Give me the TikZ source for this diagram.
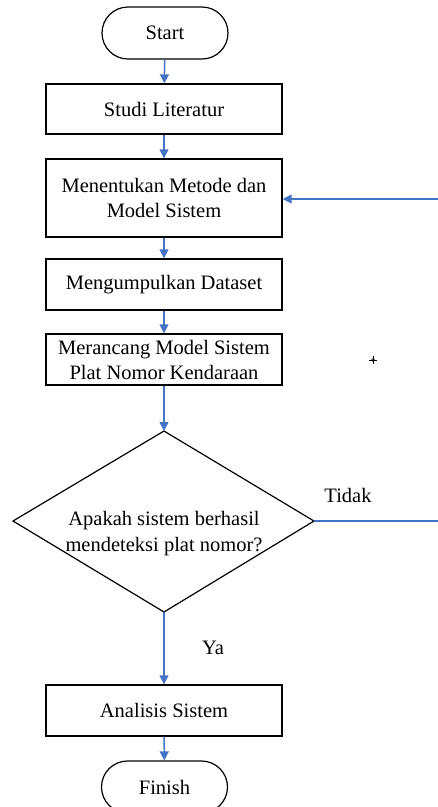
\documentclass[tikz,border=0pt]{standalone}
\usepackage{fontspec}
\setmainfont{Liberation Serif}
\usetikzlibrary{arrows.meta}
\definecolor{flowblue}{HTML}{4472C4}
\tikzset{
  procbox/.style={draw=black, line width=1.4pt, fill=white, minimum width=236pt, inner sep=0pt, align=center, font=\fontsize{20.5}{25}\selectfont},
  termbox/.style={draw=black, line width=1.2pt, fill=white, minimum width=126pt, minimum height=52pt, rounded corners=26pt, inner sep=0pt, align=center, font=\fontsize{20.5}{25}\selectfont},
  flow/.style={draw=flowblue, line width=1.5pt, -{Triangle[width=9pt,length=9pt]}},
  flowline/.style={draw=flowblue, line width=1.5pt},
  lbl/.style={inner sep=0pt, font=\fontsize{20.5}{25}\selectfont},
}
\begin{document}
\begin{tikzpicture}[x=1pt,y=-1pt]
\useasboundingbox (0,0) rectangle (438,807);
\clip (0,0) rectangle (438,807);
\node[termbox] (start) at (165,33) {Start};
\node[procbox, minimum height=50pt] (studi) at (164,109) {Studi Literatur};
\node[procbox, minimum height=78pt] (metode) at (164,198) {Menentukan Metode dan\\Model Sistem};
\node[procbox, minimum height=51pt] (data) at (164,284.5) {Mengumpulkan Dataset};
\node[procbox, minimum height=51pt] (rancang) at (164,359.5) {Merancang Model Sistem\\Plat Nomor Kendaraan};
\coordinate (dtop) at (164,431);
\coordinate (dbot) at (164,612);
\coordinate (dleft) at (13,521);
\coordinate (dright) at (314,521);
\draw[black, line width=1.2pt, fill=white, line join=miter] (dtop) -- (dright) -- (dbot) -- (dleft) -- cycle;
\node[lbl, align=center, font=\fontsize{20.5}{26}\selectfont] (dec) at (164,534) {Apakah sistem berhasil\\mendeteksi plat nomor?};
\node[procbox, minimum height=51pt] (anal) at (164,710.5) {Analisis Sistem};
\node[termbox] (finish) at (164.5,787) {Finish};
\node[lbl] (tidak) at (348,495) {Tidak};
\node[lbl] (ya) at (213,648) {Ya};
\coordinate (rback) at (440,521);
\coordinate (rin) at (440,199);
\draw[flow] (start) -- (studi);
\draw[flow] (studi) -- (metode);
\draw[flow] (metode) -- (data);
\draw[flow] (data) -- (rancang);
\draw[flow] (rancang) -- (dtop);
\draw[flow] (dbot) -- (anal);
\draw[flow] (anal) -- (finish);
\draw[flowline] (dright) -- (rback);
\draw[flow] (rin) -- (metode.east |- rin);
% small cursor mark
\coordinate (cross) at (373,360);
\draw[black, line width=0.6pt] ([xshift=-4pt]cross) -- ([xshift=4pt]cross) ([yshift=-4pt]cross) -- ([yshift=4pt]cross);
\draw[black, line width=0.5pt] (cross) circle (1.6pt);
\end{tikzpicture}
\end{document}
